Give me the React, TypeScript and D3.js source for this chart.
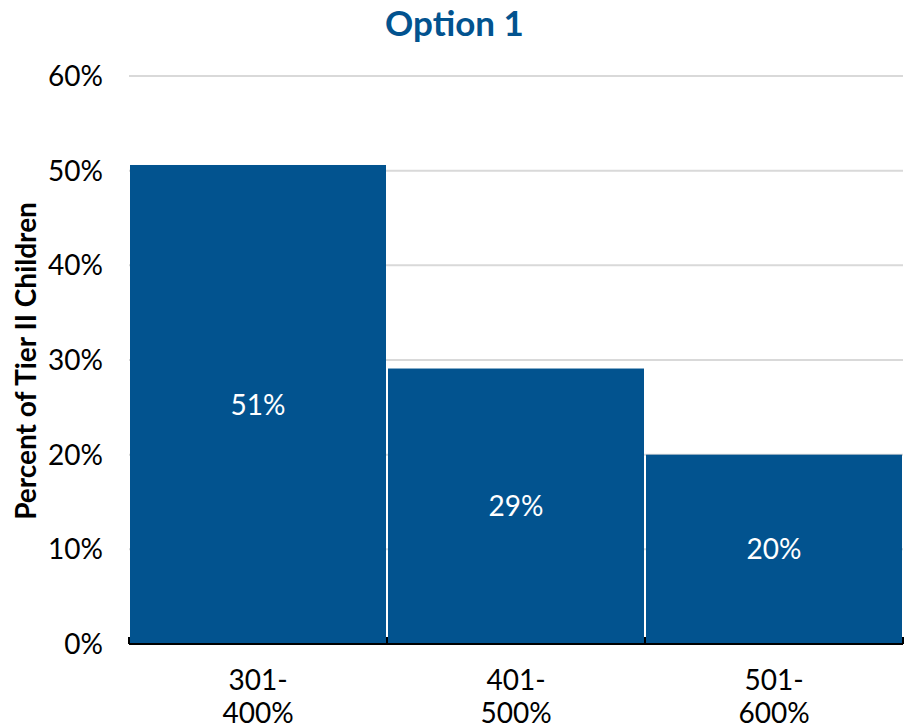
import React from "react"
import { scaleBand, scaleLinear } from "d3"

const categories = [
  ["301-", "400%"],
  ["401-", "500%"],
  ["501-", "600%"],
]
const values = [50.6, 29.1, 20.0]
const yTicks = [0, 10, 20, 30, 40, 50, 60]

const WIDTH = 909
const HEIGHT = 728
const margin = { top: 76, right: 6, bottom: 84, left: 129 }
const BLUE = "#02538f"
const FONT = "Lato, 'Noto Sans', sans-serif"

export default function App() {
  const innerW = WIDTH - margin.left - margin.right
  const innerH = HEIGHT - margin.top - margin.bottom

  const keys = categories.map((c) => c.join(""))
  const x = scaleBand().domain(keys).range([0, innerW]).paddingInner(0).paddingOuter(0)
  const y = scaleLinear().domain([0, 60]).range([innerH, 0])

  return (
    <svg
      width={WIDTH}
      height={HEIGHT}
      style={{ position: "absolute", left: 0, top: 0, fontFamily: FONT }}
    >
      <text
        x={WIDTH / 2}
        y={36}
        textAnchor="middle"
        fontSize={35}
        fontWeight="bold"
        fill={BLUE}
      >
        Option 1
      </text>

      <text
        transform={`translate(36, ${margin.top + innerH / 2 + 1}) rotate(-90)`}
        textAnchor="middle"
        fontSize={28}
        fontWeight="bold"
        fill="#000"
      >
        Percent of Tier II Children
      </text>

      <g transform={`translate(${margin.left},${margin.top})`}>
        {/* gridlines */}
        {yTicks.map((t) => (
          <line
            key={t}
            x1={0}
            x2={innerW}
            y1={y(t)}
            y2={y(t)}
            stroke="#d9d9d9"
            strokeWidth={2}
          />
        ))}
        {yTicks.map((t) => (
          <text
            key={"l" + t}
            x={-26}
            y={y(t)}
            dy="0.36em"
            textAnchor="end"
            fontSize={28}
            fill="#000"
          >
            {t}%
          </text>
        ))}

        {/* bars */}
        {values.map((v, i) => {
          const bx = x(keys[i])!
          const bw = x.bandwidth()
          return (
            <g key={i}>
              <rect
                x={bx + 1}
                y={y(v)}
                width={bw - 2}
                height={innerH - y(v)}
                fill={BLUE}
              />
              <text
                x={bx + bw / 2}
                y={(y(v) + innerH) / 2}
                dy="0.36em"
                textAnchor="middle"
                fontSize={28}
                fill="#fff"
              >
                {Math.round(v)}%
              </text>
            </g>
          )
        })}

        {/* x axis */}
        <line x1={0} x2={innerW} y1={innerH} y2={innerH} stroke="#000" strokeWidth={2} />
        {[0, 1, 2, 3].map((i) => {
          const tx = i < 3 ? x(keys[i])! : innerW
          return (
            <line key={"t" + i} x1={tx} x2={tx} y1={innerH - 7} y2={innerH} stroke="#000" strokeWidth={2} />
          )
        })}
        {categories.map((c, i) => (
          <text
            key={"c" + i}
            x={x(keys[i])! + x.bandwidth() / 2}
            y={innerH + 46}
            textAnchor="middle"
            fontSize={28}
            fill="#000"
          >
            <tspan x={x(keys[i])! + x.bandwidth() / 2} dy={0}>{c[0]}</tspan>
            <tspan x={x(keys[i])! + x.bandwidth() / 2} dy={33}>{c[1]}</tspan>
          </text>
        ))}
      </g>
    </svg>
  )
}
